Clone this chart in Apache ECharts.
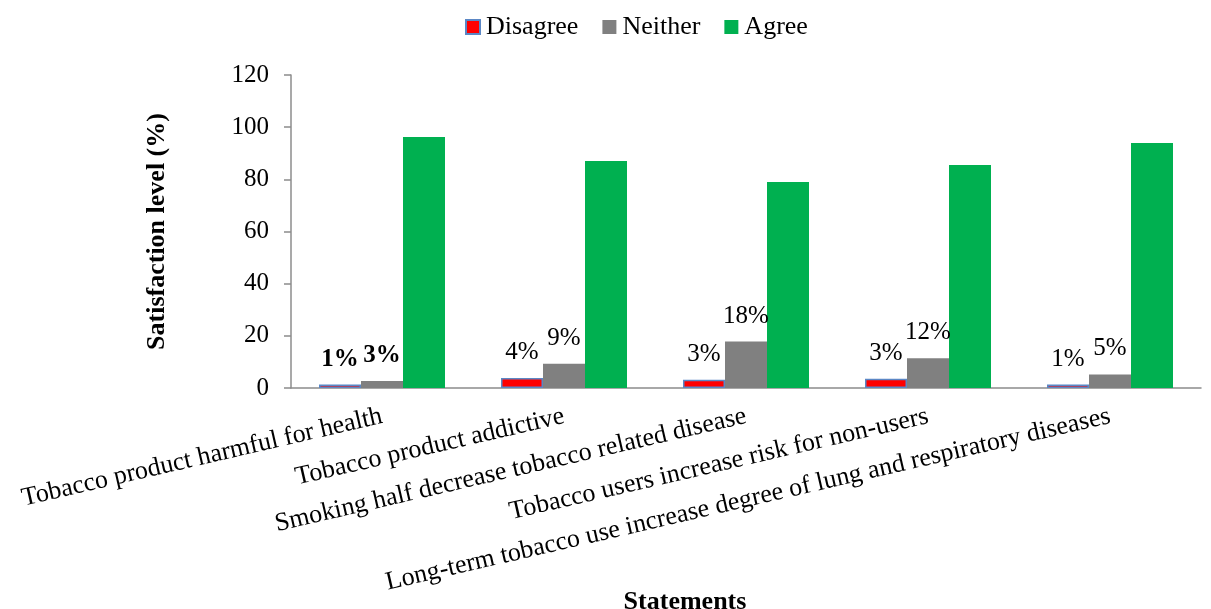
<!DOCTYPE html>
<html>
<head>
<meta charset="utf-8">
<script src="https://cdn.jsdelivr.net/npm/echarts@6/dist/echarts.min.js"></script>
<style>html,body{margin:0;padding:0;background:#fff;}#main{width:1211px;height:609px;}</style>
</head>
<body>
<div id="main"></div>
<script>
var categories = [
  'Tobacco product harmful for health',
  'Tobacco product addictive',
  'Smoking half decrease tobacco related disease',
  'Tobacco users increase risk for non-users',
  'Long-term tobacco use increase degree of lung and respiratory diseases'
];
var seriesNames = ['Disagree', 'Neither', 'Agree'];
var disagree = [1.3, 3.8, 3.2, 3.5, 1.3];
var neither = [2.7, 9.3, 17.8, 11.4, 5.2];
var agree = [96.2, 87.0, 79.0, 85.5, 93.9];
var disagreeLabels = ['1%', '4%', '3%', '3%', '1%'];
var neitherLabels = ['3%', '9%', '18%', '12%', '5%'];
var boldLabelIndex = 0;
var yTicks = [0, 20, 40, 60, 80, 100, 120];

var serif = 'Liberation Serif';
var labelFont = 'Liberation Serif';

function labelled(values, labels) {
  return values.map(function (v, i) {
    return {
      value: v,
      label: {
        show: true,
        position: 'top',
        distance: 13,
        formatter: labels[i],
        fontFamily: labelFont,
        fontSize: 25,
        color: '#000',
        fontWeight: i === boldLabelIndex ? 'bold' : 'normal'
      }
    };
  });
}

var chart = echarts.init(document.getElementById('main'));
chart.setOption({
  animation: false,
  title: {
    text: 'Statements',
    left: 680,
    top: 584,
    textAlign: 'center',
    textStyle: { fontFamily: serif, fontWeight: 'bold', fontSize: 26, color: '#000' }
  },
  legend: {
    data: seriesNames,
    top: 9,
    left: 460,
    icon: 'rect',
    itemWidth: 14,
    itemHeight: 14,
    itemGap: 24,
    textStyle: { fontFamily: serif, fontSize: 26, color: '#000', padding: [0, 0, 0, 1] }
  },
  grid: { left: 291, right: 10, top: 75, bottom: 221, containLabel: false },
  xAxis: {
    type: 'category',
    data: categories,
    axisLine: { lineStyle: { color: '#8c8c8c', width: 1.5 } },
    axisTick: { show: false },
    axisLabel: {
      interval: 0,
      rotate: 13,
      margin: 28,
      fontFamily: serif,
      fontSize: 26,
      color: '#000'
    }
  },
  yAxis: {
    type: 'value',
    min: yTicks[0],
    max: yTicks[yTicks.length - 1],
    interval: 20,
    name: 'Satisfaction level (%)',
    nameLocation: 'middle',
    nameGap: 121,
    nameTextStyle: { fontFamily: serif, fontWeight: 'bold', fontSize: 26, color: '#000' },
    splitLine: { show: false },
    axisLine: { show: true, lineStyle: { color: '#8c8c8c', width: 1.5 } },
    axisTick: { show: true, inside: false, length: 7, lineStyle: { color: '#8c8c8c', width: 1.5 } },
    axisLabel: { margin: 22, fontFamily: serif, fontSize: 25, color: '#000' }
  },
  series: [
    {
      name: seriesNames[0],
      type: 'bar',
      barWidth: 42,
      barGap: '0%',
      data: labelled(disagree, disagreeLabels),
      itemStyle: { color: '#ff0000', borderColor: '#5b87c5', borderWidth: 1.5 }
    },
    {
      name: seriesNames[1],
      type: 'bar',
      barWidth: 42,
      barGap: '0%',
      data: labelled(neither, neitherLabels),
      itemStyle: { color: '#808080' }
    },
    {
      name: seriesNames[2],
      type: 'bar',
      barWidth: 42,
      barGap: '0%',
      data: agree,
      itemStyle: { color: '#00b050' }
    }
  ]
});
</script>
</body>
</html>
